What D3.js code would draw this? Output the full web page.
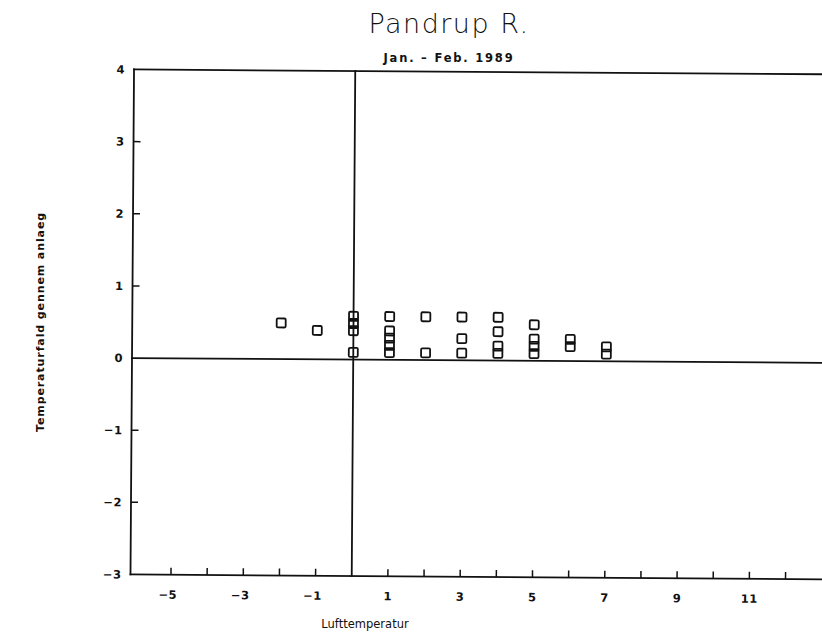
<!DOCTYPE html>
<html><head><meta charset="utf-8">
<script src="https://cdn.jsdelivr.net/npm/d3@7"></script>
<style>body{margin:0;background:#fff}svg{display:block}</style>
</head><body><svg id="c" width="822" height="632"></svg>
<script>
const title = "Pandrup R.";
const subtitle = "Jan. – Feb. 1989";
const xLabel = "Lufttemperatur";
const yLabel = "Temperaturfald gennem anlaeg";
const xTickValues = [-5,-4,-3,-2,-1,1,2,3,4,5,6,7,8,9,10,11,12];
const xTickLabels = [-5,-3,-1,1,3,5,7,9,11];
const yTickValues = [-2,-1,1,2,3];
const yTickLabels = [-3,-2,-1,0,1,2,3,4];
const airTemp  = [-2,-1, 0,0,0,0, 1,1,1,1,1, 2,2, 3,3,3, 4,4,4,4, 5,5,5,5, 6,6, 7,7];
const tempDrop = [0.5,0.4, 0.6,0.5,0.4,0.1, 0.6,0.4,0.3,0.2,0.1, 0.6,0.1, 0.6,0.3,0.1, 0.6,0.4,0.2,0.1, 0.5,0.3,0.2,0.1, 0.3,0.2, 0.2,0.1];

const svg = d3.select("#c");
const x = d3.scaleLinear().domain([-6.12, 13.4]).range([132, 132 + 19.52*36.15]);
const y = d3.scaleLinear().domain([-3, 4]).range([576, 71]);
const fmt = v => String(v).replace("-", "\u2212");
const ink = "#111";
const font = "'DejaVu Sans', Verdana, sans-serif";

const g = svg.append("g").attr("transform", `rotate(0.4, ${x(0)}, ${y(0)})`);

const lines = [
  [x.domain()[0], 4, 13.4, 4],
  [x.domain()[0], -3, 13.4, -3],
  [x.domain()[0], 0, 13.4, 0],
  [x.domain()[0], -3, x.domain()[0], 4],
  [0, -3, 0, 4]
];
g.selectAll("line.frame").data(lines).join("line").attr("class","frame")
  .attr("x1", d => x(d[0])).attr("y1", d => y(d[1]))
  .attr("x2", d => x(d[2])).attr("y2", d => y(d[3]))
  .attr("stroke", ink).attr("stroke-width", 1.8).attr("stroke-linecap","square");

g.selectAll("line.yt").data(yTickValues).join("line").attr("class","yt")
  .attr("x1", x(x.domain()[0])).attr("x2", x(x.domain()[0]) + 7)
  .attr("y1", d => y(d)).attr("y2", d => y(d))
  .attr("stroke", ink).attr("stroke-width", 1.5);
g.selectAll("text.yl").data(yTickLabels).join("text").attr("class","yl")
  .attr("x", x(x.domain()[0]) - 9).attr("y", d => y(d)).attr("dy","0.36em")
  .attr("text-anchor","end").attr("font-family", font).attr("font-weight","bold")
  .attr("font-size", 11.5).attr("letter-spacing", 0.5).attr("fill", ink).text(fmt);

g.selectAll("line.xt").data(xTickValues).join("line").attr("class","xt")
  .attr("x1", d => x(d)).attr("x2", d => x(d))
  .attr("y1", y(-3)).attr("y2", y(-3) - 7)
  .attr("stroke", ink).attr("stroke-width", 1.5);
g.selectAll("text.xl").data(xTickLabels).join("text").attr("class","xl")
  .attr("x", d => x(d) - (d < 0 ? 3 : 0)).attr("y", y(-3) + 24)
  .attr("text-anchor","middle").attr("font-family", font).attr("font-weight","bold")
  .attr("font-size", 11.5).attr("letter-spacing", 0.5).attr("fill", ink).text(fmt);

const pts = airTemp.map((t, i) => ({t, d: tempDrop[i]}));
const s = 9;
g.selectAll("rect.pt").data(pts).join("rect").attr("class","pt")
  .attr("x", p => x(p.t) - s/2).attr("y", p => y(p.d) - s/2)
  .attr("width", s).attr("height", s).attr("rx", 1.2)
  .attr("fill","none").attr("stroke", ink).attr("stroke-width", 1.8);

svg.append("text").attr("x", 449).attr("y", 33).attr("text-anchor","middle")
  .attr("font-family", font).attr("font-weight", 200).attr("font-size", 27)
  .attr("letter-spacing", 1.5).attr("fill", ink).text(title);
svg.append("text").attr("x", 449).attr("y", 62).attr("text-anchor","middle")
  .attr("font-family", font).attr("font-weight","bold").attr("font-size", 11.5)
  .attr("letter-spacing", 1.8).attr("fill", ink).text(subtitle);
svg.append("text").attr("x", 365).attr("y", 628).attr("text-anchor","middle")
  .attr("font-family", font).attr("font-size", 11.5)
  .attr("fill", ink).text(xLabel);
svg.append("text").attr("transform", "translate(44,322) rotate(-90)")
  .attr("text-anchor","middle").attr("font-family", font).attr("font-weight","bold")
  .attr("font-size", 11).attr("letter-spacing", 0.9).attr("fill", ink).text(yLabel);
</script></body></html>
